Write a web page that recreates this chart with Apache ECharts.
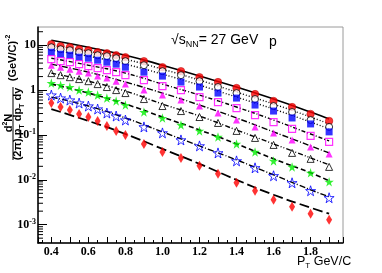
<!DOCTYPE html>
<html><head><meta charset="utf-8">
<script src="https://cdn.jsdelivr.net/npm/echarts@6/dist/echarts.min.js"></script>
<style>html,body{margin:0;padding:0;background:#fff}#c{width:382px;height:273px}</style>
</head><body><div id="c"></div>
<script>
// pT bin centres (GeV/c)
const pT = [0.4,0.45,0.5,0.55,0.6,0.65,0.7,0.75,0.8,0.9,1.0,1.1,1.2,1.3,1.4,1.5,1.6,1.7,1.8,1.9];
// spectra, top to bottom
const redCircle    = [10.53,9.50,9.03,8.15,7.74,6.99,6.64,5.99,5.41,4.41,3.24,2.64,1.94,1.51,1.11,0.815,0.570,0.419,0.293,0.205];
const openCircle   = [9.03,8.15,7.74,6.99,6.64,5.99,5.70,5.14,4.41,3.59,2.64,2.15,1.58,1.17,0.858,0.631,0.441,0.324,0.215,0.151];
const blueSquare   = [6.99,6.31,5.99,5.41,5.14,4.64,4.19,3.78,3.24,2.51,2.05,1.51,1.17,0.858,0.664,0.464,0.341,0.239,0.176,0.117];
const magOpenSq    = [4.89,4.41,4.19,3.78,3.41,3.08,2.78,2.51,2.15,1.67,1.23,1.00,0.699,0.541,0.398,0.278,0.194,0.136,0.0950,0.0699];
const magTriangle  = [3.59,3.24,2.93,2.64,2.39,2.05,1.85,1.58,1.36,1.00,0.774,0.599,0.441,0.308,0.215,0.151,0.111,0.0774,0.0541,0.0378];
const openTriangle = [2.39,2.15,1.94,1.76,1.58,1.36,1.17,1.00,0.858,0.631,0.441,0.341,0.251,0.185,0.123,0.0858,0.0599,0.0398,0.0293,0.0194];
const greenStar    = [1.43,1.29,1.17,1.00,0.903,0.774,0.664,0.570,0.464,0.324,0.239,0.167,0.123,0.0903,0.0631,0.0419,0.0264,0.0194,0.0143,0.00903];
const blueOpenStar = [0.774,0.664,0.599,0.514,0.441,0.378,0.308,0.264,0.215,0.151,0.111,0.0774,0.0570,0.0398,0.0264,0.0185,0.0123,0.00858,0.00570,0.00398];
const redDiamond   = [0.514,0.419,0.359,0.293,0.251,0.205,0.158,0.123,0.100,0.0631,0.0419,0.0308,0.0205,0.0136,0.00858,0.00570,0.00359,0.00251,0.00176,0.00129];
// fit curves read at these pT
const fitX = [0.4,0.6,0.8,1.0,1.2,1.4,1.6,1.8,1.9];
const fit1 = [12.9,9.03,5.99,3.59,2.05,1.17,0.631,0.324,0.227];
const fit2 = [10.0,7.36,4.89,2.93,1.67,0.903,0.489,0.251,0.176];
const fit3 = [7.74,5.70,3.78,2.27,1.29,0.699,0.378,0.194,0.136];
const fit4 = [5.14,3.59,2.39,1.36,0.774,0.419,0.215,0.105,0.0736];
const fit5 = [3.78,2.51,1.51,0.858,0.464,0.239,0.117,0.0570,0.0398];
const fit6 = [2.39,1.58,0.950,0.489,0.264,0.129,0.0631,0.0308,0.0215];
const fit7 = [1.36,0.858,0.489,0.251,0.129,0.0631,0.0293,0.0143,0.00950];
const fit8 = [0.699,0.441,0.239,0.117,0.0570,0.0278,0.0129,0.00599,0.00419];
const fit9 = [0.378,0.205,0.105,0.0489,0.0227,0.0100,0.00464,0.00239,0.00176];
// axis ranges and minor-tick multipliers
const xMin = 0.328, xMax = 1.975, yMin = 3.9e-4, yMax = 25.5;
const minorMult = [2,3,4,5,6,7,8,9];
const minorDecades = [1e-4,1e-3,1e-2,1e-1,1,10];

const STAR = 'path://M50,0 L61,35 L98,35 L68,57 L79,91 L50,70 L21,91 L32,57 L2,35 L39,35 Z';
const pts = a => pT.map((x,i)=>[x,a[i]]);
const fpts = a => fitX.map((x,i)=>[x,a[i]]);

const markerDefs = [
  [redCircle,'circle',7.5,{color:'#ff0000',borderColor:'#b00000',borderWidth:0.6}],
  [openCircle,'circle',7,{color:'#ffffff',borderColor:'#000',borderWidth:1}],
  [blueSquare,'rect',7,{color:'#0000ff'}],
  [magOpenSq,'rect',7,{color:'rgba(0,0,0,0)',borderColor:'#ff00ff',borderWidth:1.2}],
  [magTriangle,'triangle',7,{color:'#ff00ff'}],
  [openTriangle,'triangle',7,{color:'rgba(0,0,0,0)',borderColor:'#000',borderWidth:1}],
  [greenStar,STAR,9.5,{color:'#00ee00'}],
  [blueOpenStar,STAR,10,{color:'rgba(0,0,0,0)',borderColor:'#0000ff',borderWidth:1}],
  [redDiamond,'diamond',[6,10],{color:'#ff0000'}]
];
const fitDefs = [
  [fit1,'solid',1.6],
  [fit2,[1,2],1.4],
  [fit3,[1,2],1.4],
  [fit4,[4,2,1,2],1.4],
  [fit5,[6,2,1,2],1.4],
  [fit6,[5,2,1,2,1,2],1.4],
  [fit7,[5,3],1.6],
  [fit8,[6,2,1,2],1.4],
  [fit9,[10,4],1.8]
];

const minorData = [];
minorDecades.forEach(d=>minorMult.forEach(m=>{const v=m*d; if(v>yMin && v<yMax) minorData.push([xMin,v]);}));

const series = [];
fitDefs.forEach(([a,t,w])=>series.push({type:'line',data:fpts(a),smooth:true,symbol:'none',silent:true,z:2,
  lineStyle:{color:'#000',width:w,type:t}}));
markerDefs.forEach(([a,sym,size,st])=>series.push({type:'scatter',data:pts(a),symbol:sym,symbolSize:size,z:3,
  itemStyle:st}));
series.push({type:'custom',data:minorData,silent:true,clip:false,z:4,
  renderItem:(params,api)=>{const p=api.coord([api.value(0),api.value(1)]);
    return {type:'line',shape:{x1:p[0],y1:p[1],x2:p[0]+5,y2:p[1]},style:{stroke:'#000',lineWidth:1}};}});

const serif = 'Liberation Serif', sans = 'Liberation Sans';
const chart = echarts.init(document.getElementById('c'),null,{renderer:'canvas'});
chart.setOption({
  animation:false,
  backgroundColor:'#fff',
  grid:{left:38,top:27,width:305,height:216,show:true,borderColor:'#9a9a9a',borderWidth:1,backgroundColor:'transparent'},
  xAxis:{type:'value',min:xMin,max:xMax,splitNumber:16,
    axisLine:{lineStyle:{color:'#000',width:1.5}},
    axisTick:{inside:true,length:6,lineStyle:{color:'#000',width:1}},
    minorTick:{show:true,splitNumber:2,length:3,lineStyle:{color:'#000',width:1}},
    splitLine:{show:false},
    axisLabel:{showMinLabel:false,showMaxLabel:false,margin:3,color:'#000',fontFamily:serif,fontWeight:'bold',fontSize:12,
      formatter:v=>Math.abs(v*5-Math.round(v*5))<1e-6?v.toFixed(1):''}},
  yAxis:{type:'log',logBase:10,min:yMin,max:yMax,
    axisLine:{lineStyle:{color:'#000',width:1.5}},
    axisTick:{inside:true,length:9,lineStyle:{color:'#000',width:1}},
    splitLine:{show:false},
    axisLabel:{showMinLabel:false,showMaxLabel:false,margin:2,color:'#000',fontFamily:serif,fontWeight:'bold',fontSize:12,
      formatter:v=>{const e=Math.round(Math.log10(v)); if(Math.abs(Math.log10(v)-e)>1e-6) return '';
        if(e===0) return '1'; if(e===1) return '10'; return '10{sup|'+e+'}';},
      rich:{sup:{fontSize:8,fontFamily:serif,fontWeight:'bold',verticalAlign:'top',lineHeight:14}}}},
  series:series,
  graphic:[
    {type:'text',left:171,top:33,style:{text:'√{s|s}{sub|NN}= 27 GeV',fill:'#000',font:'14px "Liberation Sans"',
      rich:{s:{fontSize:14,fontFamily:sans,verticalAlign:'middle',lineHeight:18},sub:{fontSize:9,fontFamily:sans,verticalAlign:'bottom',lineHeight:18}}}},
    {type:'text',left:269,top:35,style:{text:'p',fill:'#000',font:'14px "Liberation Sans"'}},
    {type:'text',left:297,top:255,style:{text:'P{sub|T} GeV/C',fill:'#000',font:'12.5px "Liberation Sans"',
      rich:{sub:{fontSize:8,fontFamily:sans,verticalAlign:'bottom',lineHeight:17}}}},
    {type:'text',x:8.5,y:123,rotation:Math.PI/2,style:{text:'d{sup|2}N',fill:'#000',font:'bold 11px "Liberation Sans"',align:'center',verticalAlign:'middle',
      rich:{sup:{fontSize:7,fontFamily:sans,fontWeight:'bold',verticalAlign:'top',lineHeight:14}}}},
    {type:'line',shape:{x1:13,y1:87,x2:13,y2:160},style:{stroke:'#000',lineWidth:1}},
    {type:'text',x:18,y:124,rotation:Math.PI/2,style:{text:'(2π) p{sub|T} dp{sub|T} dy',fill:'#000',font:'bold 11px "Liberation Sans"',align:'center',verticalAlign:'middle',
      rich:{sub:{fontSize:7,fontFamily:sans,fontWeight:'bold',verticalAlign:'bottom',lineHeight:15}}}},
    {type:'text',x:12.5,y:58,rotation:Math.PI/2,style:{text:'(GeV/C){sup|-2}',fill:'#000',font:'bold 11px "Liberation Sans"',align:'center',verticalAlign:'middle',
      rich:{sup:{fontSize:7,fontFamily:sans,fontWeight:'bold',verticalAlign:'top',lineHeight:15}}}}
  ]
});
</script></body></html>
